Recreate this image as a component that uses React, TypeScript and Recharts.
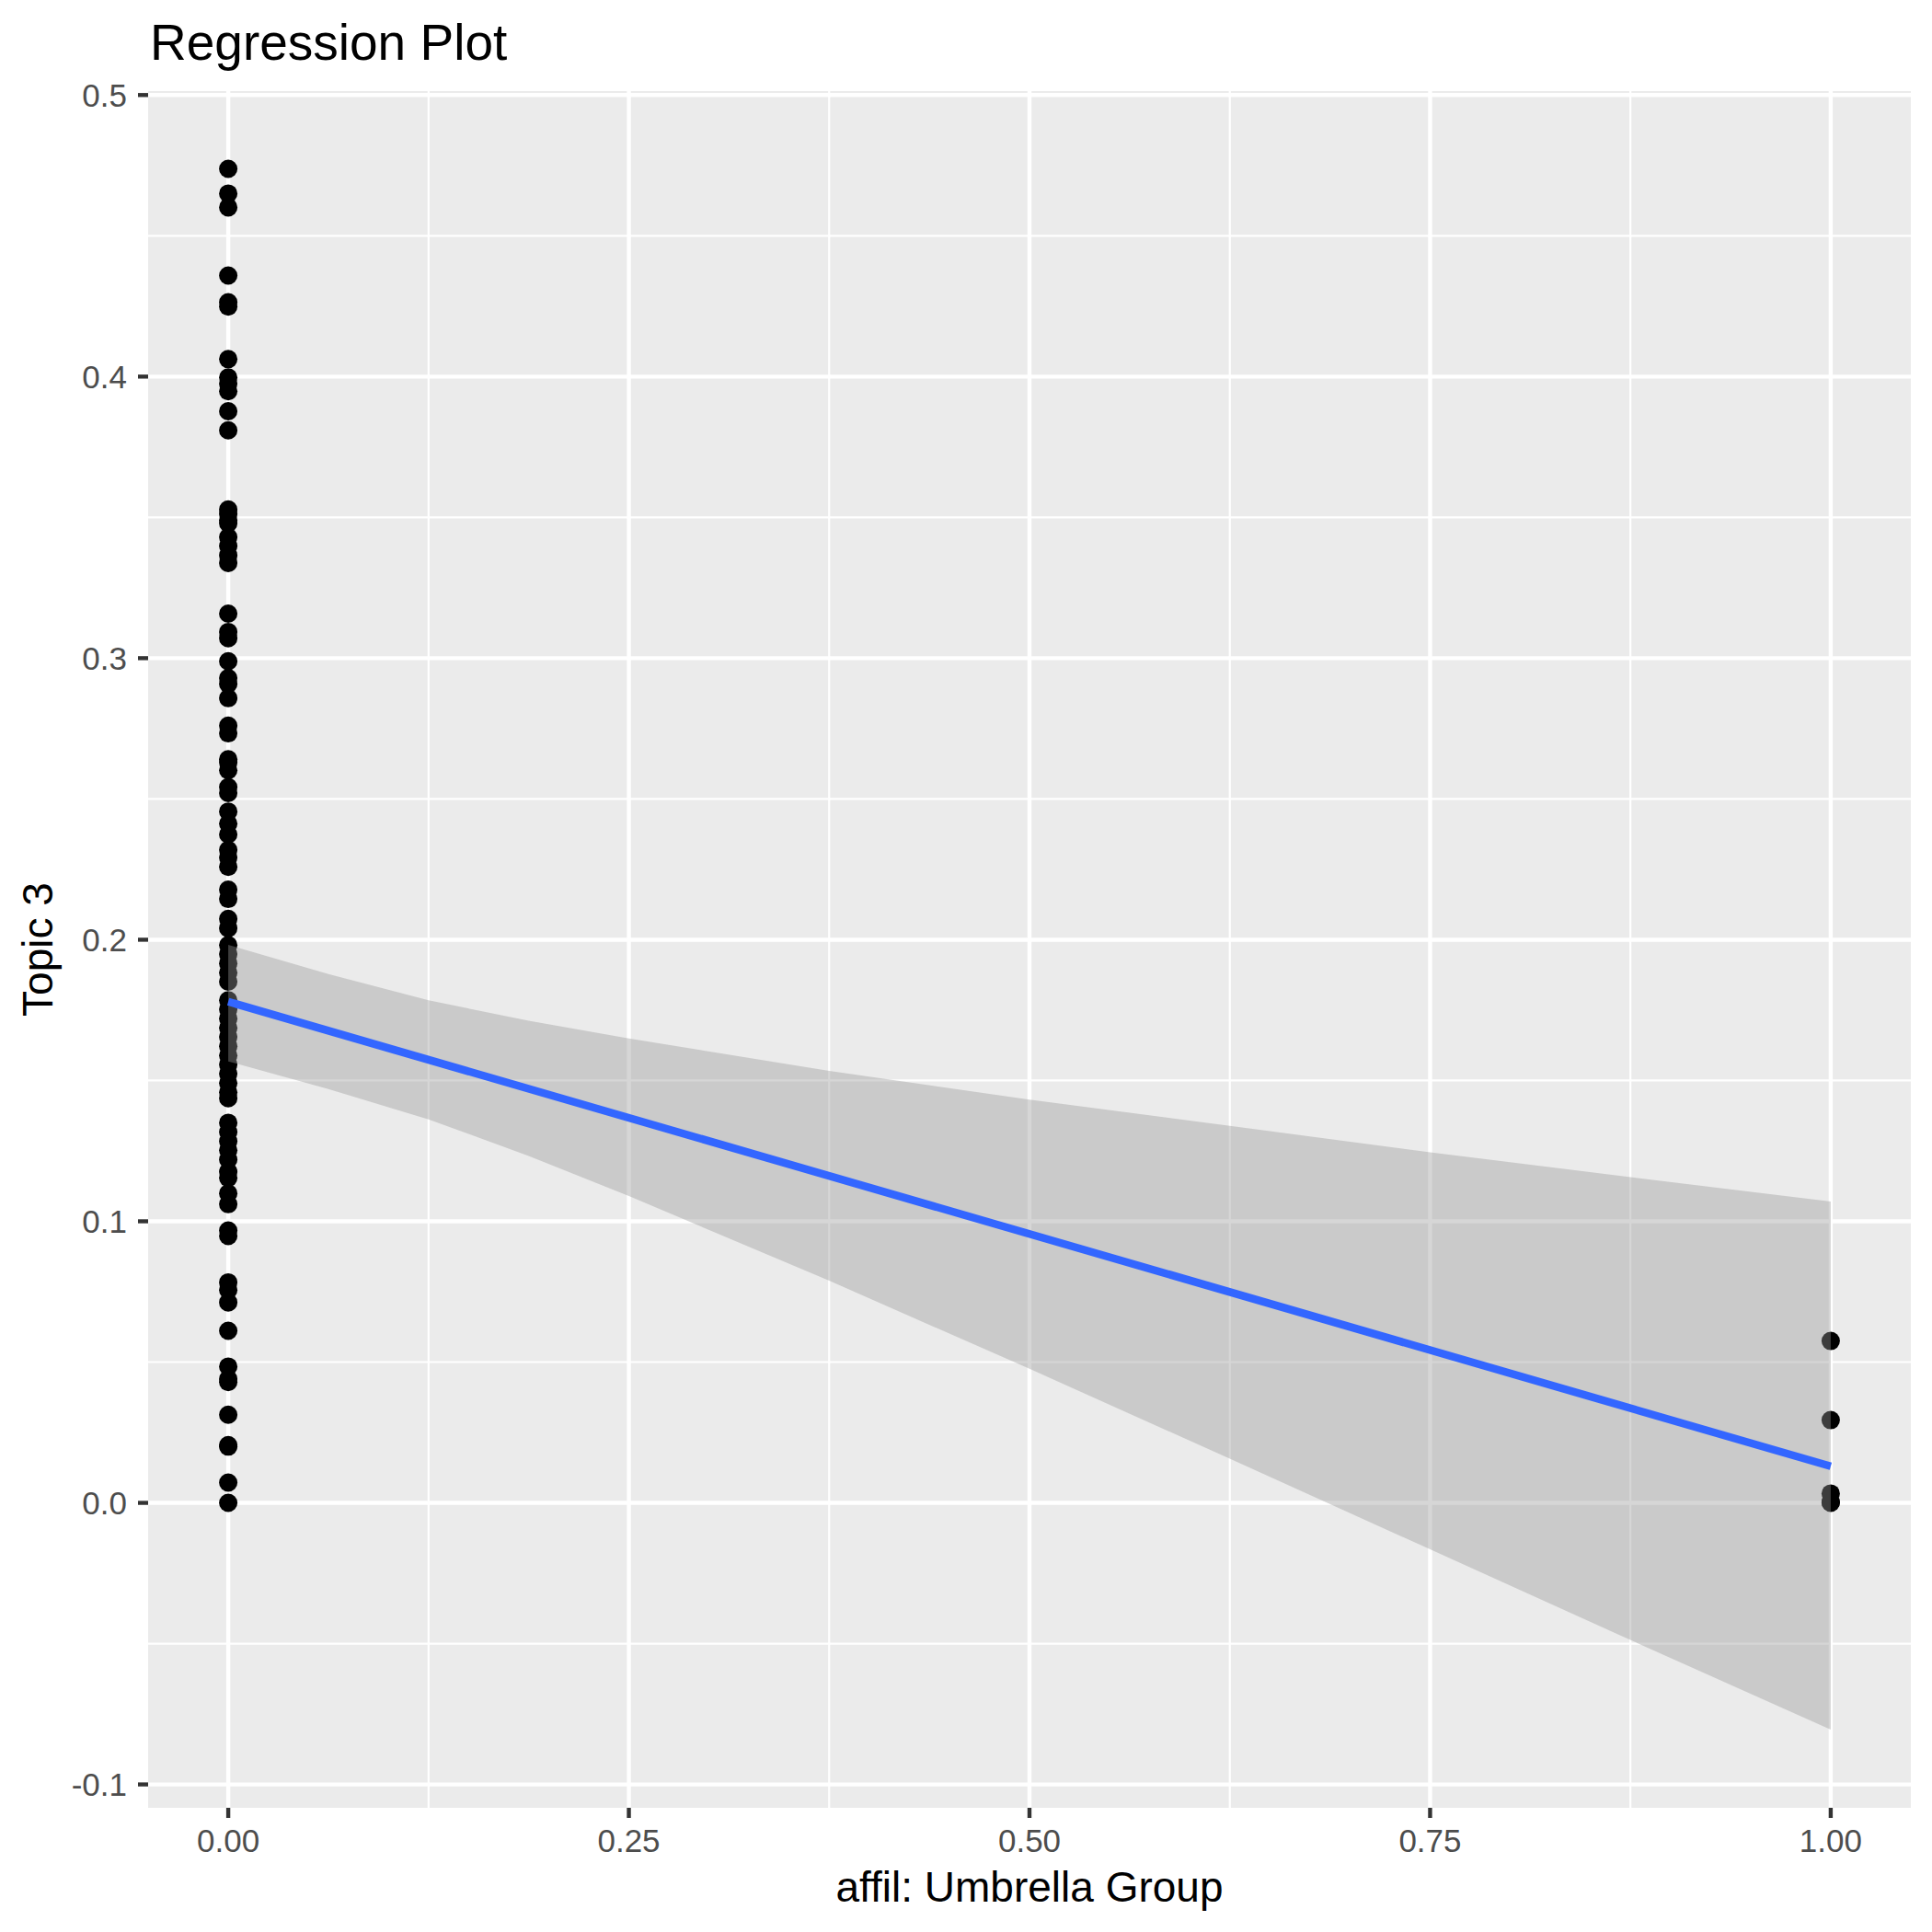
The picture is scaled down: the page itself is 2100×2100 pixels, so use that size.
import React from 'react';
import { ComposedChart, Scatter, Area, Line, XAxis, YAxis, CartesianGrid } from 'recharts';

// Topic 3 values for affil: Umbrella Group = 0
const groupZeroValues = [
  0.4738, 0.465, 0.4601, 0.4359, 0.4264, 0.4249, 0.4062, 0.3997, 0.3975, 0.3948, 0.3877, 0.3809,
  0.3528, 0.3512, 0.349, 0.3479, 0.343, 0.3398, 0.3365, 0.3338, 0.3158, 0.3093, 0.3071, 0.2989,
  0.2929, 0.2908, 0.2858, 0.276, 0.2733, 0.2641, 0.263, 0.2602, 0.2542, 0.2521, 0.2455, 0.2412,
  0.2374, 0.2319, 0.2292, 0.2259, 0.2178, 0.2145, 0.2074, 0.2041, 0.1981, 0.1949, 0.1916, 0.1883,
  0.1851, 0.1785, 0.1753, 0.172, 0.1687, 0.1655, 0.1622, 0.1589, 0.1557, 0.1524, 0.1491, 0.1458,
  0.1437, 0.135, 0.1317, 0.1284, 0.1252, 0.1219, 0.1176, 0.1154, 0.1099, 0.1061, 0.0967, 0.0948,
  0.0783, 0.0756, 0.0712, 0.0611, 0.0484, 0.044, 0.0429, 0.0313, 0.0205, 0.02, 0.0072, 0.0,
];
// Topic 3 values for affil: Umbrella Group = 1
const groupOneValues = [0.0575, 0.0294, 0.0033, 0.0003, 0.0];

// Confidence band of the linear fit
const bandX = [0, 0.0625, 0.125, 0.1875, 0.25, 0.375, 0.5, 0.625, 0.75, 0.875, 1];
const bandUpper = [0.1982, 0.1878, 0.1785, 0.1712, 0.1649, 0.1534, 0.1432, 0.1339, 0.1245, 0.1157, 0.107];
const bandLower = [0.1568, 0.147, 0.1362, 0.1232, 0.109, 0.0789, 0.0476, 0.0157, -0.0165, -0.0487, -0.0805];

// Fitted line
const fitX = [0, 1];
const fitY = [0.178, 0.013];

const xTicks = [0, 0.25, 0.5, 0.75, 1];
const yTicks = [-0.1, 0, 0.1, 0.2, 0.3, 0.4, 0.5];
const xMinor = [0.125, 0.375, 0.625, 0.875];
const yMinor = [-0.05, 0.05, 0.15, 0.25, 0.35, 0.45];

const titleText = 'Regression Plot';
const xTitle = 'affil: Umbrella Group';
const yTitle = 'Topic 3';

const FONT = '"Liberation Sans", Arial, Helvetica, sans-serif';

const pointData = [
  ...groupZeroValues.map((v) => ({ x: 0, y: v })),
  ...groupOneValues.map((v) => ({ x: 1, y: v })),
];
const bandData = bandX.map((x, i) => ({ x, band: [bandLower[i], bandUpper[i]] }));
const fitData = fitX.map((x, i) => ({ x, fit: fitY[i] }));

const W = 2100;
const H = 2100;
const M = { top: 99, right: 23, left: 0, bottom: 0 };
const Y_AXIS_W = 161;
const X_AXIS_H = 135;

const Dot = (p: any) => <circle cx={p.cx} cy={p.cy} r={10} fill="#000000" />;

export default function App() {
  const plotLeft = M.left + Y_AXIS_W;
  const plotRight = W - M.right;
  const plotTop = M.top;
  const plotBottom = H - M.bottom - X_AXIS_H;
  const cx = (plotLeft + plotRight) / 2;
  const cy = (plotTop + plotBottom) / 2;
  return (
    <div style={{ position: 'absolute', left: 0, top: 0, width: W, height: H, background: '#ffffff' }}>
      <ComposedChart width={W} height={H} margin={M}>
        <CartesianGrid
          fill="#EBEBEB"
          stroke="#FFFFFF"
          strokeWidth={2.2}
          horizontalValues={yMinor}
          verticalValues={xMinor}
        />
        <CartesianGrid
          stroke="#FFFFFF"
          strokeWidth={4.4}
          horizontalValues={yTicks}
          verticalValues={xTicks}
        />
        <XAxis
          type="number"
          dataKey="x"
          domain={[-0.05, 1.05]}
          ticks={xTicks}
          allowDataOverflow
          height={X_AXIS_H}
          axisLine={false}
          tickLine={{ stroke: '#333333', strokeWidth: 4.4 }}
          tickSize={11}
          tickMargin={12}
          tickFormatter={(v: number) => v.toFixed(2)}
          tick={{ fill: '#4D4D4D', fontSize: 35, fontFamily: FONT }}
        />
        <YAxis
          type="number"
          dataKey="y"
          domain={[-0.1083, 0.5014]}
          ticks={yTicks}
          allowDataOverflow
          width={Y_AXIS_W}
          axisLine={false}
          tickLine={{ stroke: '#333333', strokeWidth: 4.4 }}
          tickSize={11}
          tickMargin={12}
          tickFormatter={(v: number) => v.toFixed(1)}
          tick={{ fill: '#4D4D4D', fontSize: 35, fontFamily: FONT }}
        />
        <Scatter data={pointData} dataKey="y" shape={Dot} isAnimationActive={false} zIndex={600} />
        <Area
          data={bandData}
          dataKey="band"
          type="linear"
          fill="#999999"
          fillOpacity={0.4}
          stroke="none"
          isAnimationActive={false}
          zIndex={700}
        />
        <Line
          data={fitData}
          dataKey="fit"
          type="linear"
          stroke="#3366FF"
          strokeWidth={8.5}
          dot={false}
          activeDot={false}
          isAnimationActive={false}
          zIndex={800}
        />
      </ComposedChart>
      <svg
        width={W}
        height={H}
        style={{ position: 'absolute', left: 0, top: 0, pointerEvents: 'none' }}
      >
        <text x={plotLeft + 2} y={65} fontSize={55} fontFamily={FONT} fill="#000000">
          {titleText}
        </text>
        <text x={cx} y={2067} fontSize={46} fontFamily={FONT} fill="#000000" textAnchor="middle">
          {xTitle}
        </text>
        <text
          x={57}
          y={cy}
          fontSize={46}
          fontFamily={FONT}
          fill="#000000"
          textAnchor="middle"
          transform={`rotate(-90 57 ${cy})`}
        >
          {yTitle}
        </text>
      </svg>
    </div>
  );
}
